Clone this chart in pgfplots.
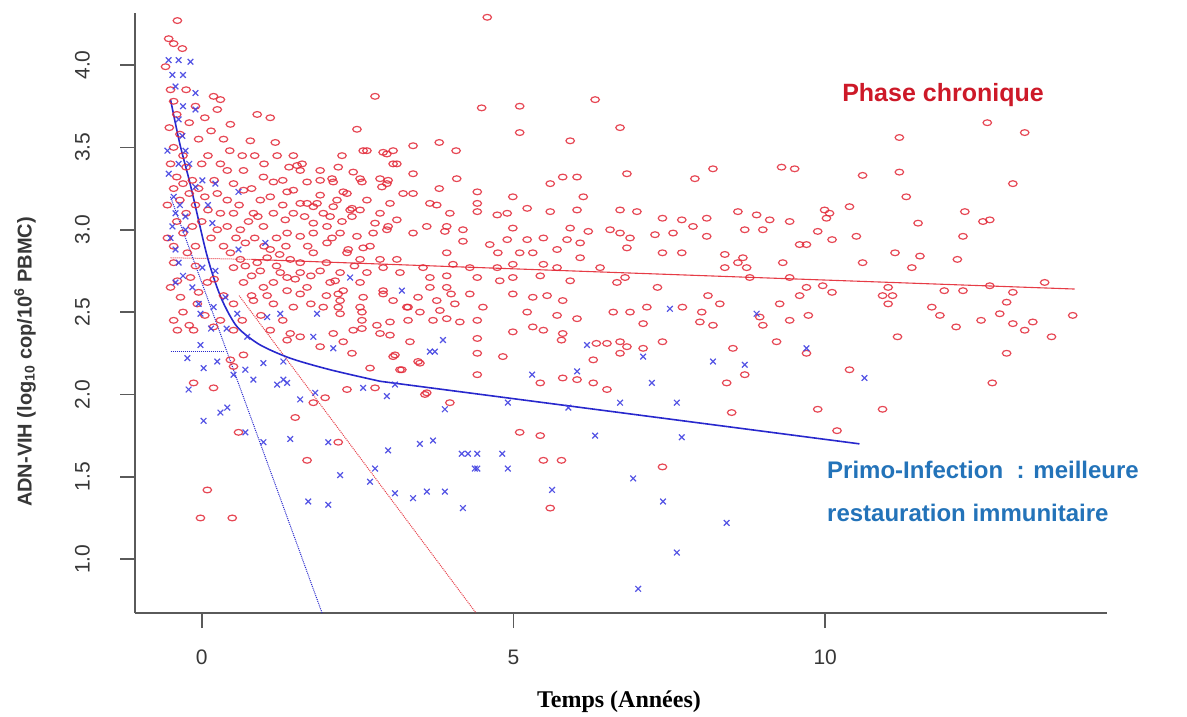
\documentclass[border=0pt]{standalone}
\usepackage{pgfplots}
\pgfplotsset{compat=1.18}
\usepackage{fontspec}
\setmainfont{Liberation Sans}
\newfontfamily\xlabfont{Liberation Serif}

\definecolor{ptred}{RGB}{226,40,55}
\definecolor{ptblue}{RGB}{65,65,225}
\definecolor{lnblue}{RGB}{40,40,205}
\definecolor{lnred}{RGB}{230,60,70}
\definecolor{axgray}{RGB}{90,90,90}
\definecolor{txgray}{RGB}{55,55,55}
\definecolor{phasered}{RGB}{205,25,40}
\definecolor{primoblue}{RGB}{35,115,185}

\begin{document}
\begin{tikzpicture}
\useasboundingbox (0,0) rectangle (1187pt,716pt);
\begin{axis}[
  at={(135pt,103pt)}, anchor=south west,
  width=972pt, height=600pt, scale only axis,
  xmin=-1.07, xmax=14.52, ymin=0.673, ymax=4.316,
  axis lines=left,
  axis line style={-, draw=axgray, line width=1.6pt},
  xtick={0,5,10},
  ytick={1.0,1.5,2.0,2.5,3.0,3.5,4.0},
  tick align=outside, major tick length=15pt,
  tick style={draw=axgray, line width=1.6pt},
  /pgf/number format/assume math mode=true,
  yticklabel style={/pgf/number format/fixed, /pgf/number format/fixed zerofill,
    /pgf/number format/precision=1, xshift=-30pt, rotate=90, anchor=south, inner sep=0pt},
  xticklabel style={inner sep=0pt, yshift=-22pt},
  ticklabel style={font=\fontsize{21}{24}\selectfont, text=txgray},
]

% phase chronique
\addplot[only marks, mark=o, mark size=3.4pt, draw=ptred, draw opacity=0.85,
  mark options={xscale=1.25, yscale=0.85, line width=1.2pt}] coordinates {
(4.58,4.29)(-0.39,4.27)(-0.53,4.16)(-0.45,4.13)(-0.31,4.10)(-0.58,3.99)
(4.49,3.74)(5.10,3.75)(6.31,3.79)(5.10,3.59)(5.91,3.54)(6.71,3.62)(3.39,3.51)(3.81,3.53)(4.08,3.48)
(2.97,3.46)(3.13,3.40)(3.39,3.34)(4.09,3.31)(2.97,3.28)(5.59,3.28)(5.79,3.32)(6.02,3.32)(6.82,3.34)
(7.91,3.31)(8.20,3.37)(9.30,3.38)(9.51,3.37)
(3.23,3.22)(3.39,3.22)(3.81,3.25)(4.42,3.23)(6.12,3.20)(3.02,3.16)(3.66,3.16)(4.42,3.16)(4.99,3.20)
(4.42,3.11)(3.98,3.10)(4.74,3.09)(4.90,3.10)(5.22,3.13)(5.59,3.11)(6.02,3.12)(6.71,3.12)(6.98,3.11)
(7.39,3.07)(7.70,3.06)(8.10,3.07)(8.90,3.09)(9.11,3.06)(9.43,3.05)(8.60,3.11)
(3.61,3.02)(3.93,3.02)(4.19,3.00)(4.99,3.01)(5.91,3.01)(6.20,2.99)(6.55,3.00)(6.71,2.98)(6.87,2.95)
(7.27,2.97)(7.56,2.98)(7.88,3.02)(8.10,2.96)(8.71,3.00)(9.00,3.00)(3.39,2.98)
(4.19,2.93)(4.62,2.91)(4.90,2.94)(5.22,2.94)(5.48,2.95)(5.86,2.94)(6.07,2.92)(6.82,2.89)(7.39,2.86)
(7.70,2.86)(8.39,2.85)(8.68,2.83)(9.32,2.80)(3.93,2.86)(4.75,2.86)(5.10,2.86)(5.31,2.86)(5.70,2.88)(6.07,2.83)
(3.55,2.77)(4.03,2.79)(4.30,2.77)(4.74,2.77)(4.99,2.79)(5.48,2.79)(5.70,2.77)(6.39,2.77)(8.39,2.77)(8.60,2.80)(8.74,2.77)
(3.18,2.74)(3.66,2.71)(3.93,2.72)(4.42,2.71)(4.78,2.69)(4.99,2.71)(5.43,2.72)(5.91,2.69)(6.79,2.71)(8.79,2.71)(9.43,2.71)
(3.66,2.65)(3.93,2.65)(4.30,2.61)(4.99,2.61)(5.31,2.59)(5.54,2.60)(5.79,2.57)(6.66,2.68)(7.31,2.65)(8.12,2.60)(9.27,2.55)
(3.29,2.53)(3.50,2.50)(3.82,2.51)(4.06,2.55)(4.51,2.53)(5.22,2.50)(5.70,2.48)(6.02,2.46)(6.60,2.50)
(6.87,2.50)(7.14,2.53)(7.71,2.53)(8.02,2.50)(8.31,2.55)(8.95,2.47)(9.43,2.45)
(3.02,2.44)(3.93,2.46)(4.14,2.44)(4.42,2.45)(7.08,2.43)(7.99,2.44)(8.20,2.42)(9.00,2.42)
(3.34,2.32)(4.42,2.34)(4.99,2.38)(5.31,2.41)(5.48,2.39)(5.79,2.37)(6.50,2.31)(6.71,2.32)(7.39,2.32)(9.22,2.32)
(5.77,2.33)(6.33,2.31)(6.82,2.29)(7.08,2.28)(8.52,2.28)
(3.07,2.23)(3.50,2.19)(4.42,2.25)(4.83,2.23)(6.28,2.21)(6.71,2.25)(4.42,2.12)(5.79,2.10)(6.02,2.09)
(6.28,2.07)(6.50,2.03)(5.43,2.07)(3.18,2.15)(3.61,2.01)(3.98,1.95)(8.42,2.07)(8.71,2.12)(8.50,1.89)
(5.10,1.77)(5.43,1.75)(5.48,1.60)(5.77,1.60)(7.39,1.56)(5.59,1.31)
(11.16,2.35)(13.63,2.35)(12.91,2.25)(10.39,2.15)(12.68,2.07)(9.88,1.91)(10.92,1.91)(10.19,1.78)(9.70,2.25)
(10.60,3.33)(11.19,3.35)(13.01,3.28)(11.30,3.20)(9.99,3.12)(10.07,3.10)(10.39,3.14)(10.02,3.07)(11.49,3.04)
(12.24,3.11)(12.53,3.05)(12.64,3.06)(9.88,2.99)(12.21,2.96)(10.50,2.96)(10.11,2.94)(9.59,2.91)(9.70,2.91)
(11.12,2.86)(11.52,2.84)(12.12,2.82)(11.39,2.77)(10.60,2.80)(9.70,2.65)(9.59,2.60)(9.96,2.66)(10.11,2.62)
(11.01,2.65)(10.92,2.60)(11.08,2.60)(11.01,2.55)(11.91,2.63)(12.21,2.63)(12.64,2.66)(13.52,2.68)(13.01,2.62)
(12.91,2.56)(11.71,2.53)(11.84,2.48)(12.80,2.49)(12.50,2.45)(13.01,2.43)(13.33,2.44)(13.20,2.39)(13.97,2.48)
(12.10,2.41)(9.73,2.48)(12.60,3.65)(13.20,3.59)(11.19,3.56)
(0.19,3.81)(0.30,3.79)(0.25,3.73)(0.46,3.64)(0.89,3.70)(1.10,3.68)(0.78,3.54)(1.18,3.53)(2.78,3.81)
(2.49,3.61)(2.65,3.48)(2.91,3.47)(3.07,3.48)
(0.30,3.40)(0.41,3.36)(0.67,3.36)(0.99,3.32)(1.21,3.45)(1.47,3.45)(1.15,3.29)(1.53,3.39)(1.58,3.36)
(1.90,3.30)(2.11,3.29)(2.25,3.45)(2.43,3.35)(2.54,3.31)(2.89,3.26)(2.99,3.30)
(0.51,3.28)(0.67,3.24)(0.25,3.22)(0.41,3.18)(0.94,3.18)(0.51,3.10)(0.83,3.10)(1.15,3.10)(1.47,3.24)
(1.69,3.16)(1.90,3.21)(2.17,3.18)(2.33,3.22)(2.65,3.18)
(1.47,3.10)(1.79,3.14)(2.06,3.08)(2.38,3.12)(2.86,3.10)(3.13,3.06)
(0.41,3.02)(0.62,3.00)(0.99,3.02)(1.37,2.98)(1.58,2.96)(1.79,2.98)(2.01,3.02)(2.22,2.98)(2.49,2.96)(2.75,2.98)(2.97,3.00)
(-0.45,2.90)(-0.23,2.86)(0.46,2.86)(0.62,2.82)(0.89,2.80)(1.05,2.83)(1.42,2.82)(1.58,2.80)(1.79,2.86)
(2.01,2.92)(2.33,2.86)(2.54,2.82)(2.86,2.82)(3.13,2.82)
(0.51,2.77)(0.94,2.75)(1.26,2.74)(1.58,2.74)(1.90,2.75)(2.22,2.74)(2.65,2.74)
(-0.39,2.69)(-0.18,2.71)(0.09,2.68)(0.67,2.68)(0.99,2.65)(1.37,2.63)(1.69,2.65)(2.06,2.68)(2.27,2.63)(2.54,2.68)(2.91,2.63)
(-0.34,2.59)(-0.07,2.55)(0.51,2.55)(0.83,2.57)(1.15,2.55)(1.47,2.53)(1.95,2.53)(2.22,2.57)(2.54,2.53)(3.07,2.57)
(-0.39,2.39)(-0.13,2.39)(0.19,2.41)(0.51,2.39)(1.10,2.39)(1.42,2.37)(1.58,2.35)(2.11,2.37)(2.43,2.39)(2.86,2.37)
(2.59,3.48)(1.61,3.40)(1.90,3.36)(2.19,3.38)(2.09,3.31)(2.57,3.29)(2.86,3.31)(3.07,3.40)(1.69,3.29)
(2.27,3.23)(1.37,3.23)(1.58,3.16)(1.85,3.16)(2.11,3.14)(2.41,3.13)(2.54,3.12)(3.77,3.15)(1.34,3.06)
(1.79,3.04)(2.41,3.08)(2.78,3.04)(2.99,3.02)(3.90,2.99)(2.09,2.95)(2.35,2.88)(2.59,2.89)(2.91,2.77)
(1.37,2.71)(2.14,2.69)(1.58,2.61)(2.19,2.61)(2.59,2.59)(2.91,2.61)(3.47,2.59)(3.77,2.57)(4.00,2.61)
(2.22,2.49)(2.57,2.45)(2.81,2.42)(3.31,2.45)(3.71,2.45)(2.57,2.40)(3.02,2.36)(2.27,2.32)
(2.19,2.53)(2.57,2.50)(3.31,2.53)(1.37,2.33)(1.90,2.29)(2.41,2.25)(3.10,2.24)(3.47,2.20)(3.21,2.15)
(2.70,2.16)(2.33,2.03)(3.58,2.00)(1.79,1.95)(1.50,1.86)(2.19,1.71)(1.69,1.60)
(0.46,2.21)(0.51,2.17)(0.67,2.24)(-0.13,2.07)(0.19,2.04)(1.98,1.98)(2.78,2.04)(0.59,1.77)(0.09,1.42)
(-0.02,1.25)(0.49,1.25)
(-0.50,3.85)(-0.45,3.78)(-0.40,3.70)(-0.52,3.62)(-0.35,3.58)(-0.45,3.50)(-0.30,3.45)(-0.50,3.40)
(-0.25,3.38)(-0.40,3.32)(-0.30,3.28)(-0.15,3.30)(-0.45,3.25)(-0.20,3.22)(-0.05,3.25)(-0.35,3.18)
(0.05,3.20)(-0.10,3.15)(-0.25,3.10)(0.10,3.12)(-0.40,3.05)(-0.15,3.02)(0.00,3.05)(-0.30,2.98)
(0.15,2.95)(-0.45,2.80)(-0.10,2.78)(-0.50,2.65)(-0.05,2.62)(-0.30,2.50)(0.05,2.48)(-0.45,2.45)
(-0.20,2.42)(0.25,3.00)(0.35,2.90)(0.20,3.30)(0.10,3.45)(-0.05,3.55)(0.00,3.40)(0.30,3.10)(0.70,2.92)
(0.80,2.60)(1.00,2.90)(1.20,2.95)(1.25,2.85)(0.75,3.05)(0.60,3.15)(1.30,3.15)(1.00,3.40)(0.65,3.45)
(0.35,3.55)(-0.20,3.65)(-0.10,3.75)(0.20,2.70)(0.35,2.60)(0.30,2.45)(0.65,2.45)(0.95,2.48)(1.30,2.45)
(-0.55,3.15)(-0.55,2.95)(-0.10,2.90)
(0.85,2.95)(1.10,2.88)(1.35,2.90)(0.70,2.78)(0.80,2.72)(1.15,2.68)(1.50,2.70)(1.75,2.72)(2.00,2.80)
(1.20,2.78)(0.55,2.95)(0.90,3.08)(1.10,3.20)(1.30,3.30)(0.80,3.25)(1.65,3.08)(1.95,3.10)(2.25,3.05)
(1.70,2.90)(2.45,2.78)(2.70,2.90)(1.05,2.60)(1.75,2.55)(2.00,2.60)(0.45,3.48)(0.85,3.45)(1.40,3.38)
(0.15,3.60)(0.05,3.68)(-0.25,3.85)
};

% primo-infection
\addplot[only marks, mark=x, mark size=4pt, draw=ptblue, draw opacity=0.9,
  mark options={line width=1.2pt}] coordinates {
(-0.53,4.03)(-0.37,4.03)(-0.18,4.02)(-0.47,3.94)(-0.30,3.94)(-0.10,3.83)(-0.42,3.87)(-0.30,3.75)
(-0.10,3.73)(-0.37,3.67)(-0.31,3.57)(-0.55,3.48)(-0.26,3.48)(-0.37,3.40)(-0.53,3.34)(0.01,3.30)
(0.22,3.28)(-0.10,3.26)(0.59,3.23)(-0.42,3.10)(-0.26,3.08)(-0.47,3.02)(-0.26,3.00)(0.17,3.04)
(1.02,2.92)(0.59,2.88)(-0.42,2.88)(-0.37,2.80)(0.01,2.77)(0.22,2.75)(-0.42,2.68)(-0.15,2.65)
(-0.05,2.55)(0.38,2.59)(2.38,2.71)(1.85,2.49)(1.26,2.49)(1.05,2.47)(0.73,2.35)(0.57,2.49)
(0.19,2.53)(-0.02,2.49)(1.79,2.35)
(-0.02,2.30)(-0.23,2.22)(0.03,2.16)(0.51,2.12)(0.99,2.19)(0.83,2.09)(1.21,2.06)(1.31,2.09)(1.31,2.20)
(-0.21,2.03)(1.58,1.97)(1.82,2.01)(2.59,2.04)(2.97,1.99)(0.41,1.92)(0.30,1.89)(0.03,1.84)(0.70,1.77)
(0.99,1.71)(1.42,1.73)(2.03,1.71)(2.99,1.66)(2.22,1.51)(2.78,1.55)(2.70,1.47)(3.10,1.40)(1.71,1.35)(2.03,1.33)
(2.11,2.28)(3.87,2.33)(3.66,2.26)(3.74,2.26)(1.37,2.07)(3.10,2.06)(3.90,1.91)(3.50,1.70)(3.71,1.72)
(4.17,1.64)(4.27,1.64)(4.38,1.55)(3.39,1.37)(3.61,1.41)(3.90,1.41)(4.19,1.31)
(5.30,2.12)(6.02,2.14)(6.18,2.30)(7.08,2.23)(7.22,2.07)(8.20,2.20)(8.71,2.18)(4.91,1.95)(5.88,1.92)
(6.71,1.95)(7.62,1.95)(6.31,1.75)(7.70,1.74)(4.42,1.64)(4.82,1.64)(4.42,1.55)(4.91,1.55)(5.62,1.42)
(6.92,1.49)(7.40,1.35)(8.42,1.22)(7.62,1.04)(7.00,0.82)
(3.21,2.63)(7.51,2.52)(8.90,2.49)(9.70,2.28)(10.63,2.10)
(-0.45,3.20)(-0.35,3.15)(-0.20,3.40)(0.10,3.15)(-0.50,2.95)(-0.30,2.72)(0.15,2.40)(0.40,2.40)(0.25,2.20)(0.70,2.15)
};

% ajustements
\addplot[lnred, line width=1.1pt] coordinates {(0.8,2.82)(14.0,2.64)};
\addplot[lnred, line width=1pt, densely dotted] coordinates {(-0.5,2.83)(0.8,2.82)};
\addplot[lnred, line width=1pt, densely dotted] coordinates {(0.6,2.60)(4.4,0.673)};
\addplot[lnblue, line width=1.6pt, smooth] coordinates {
(-0.50,3.79)(-0.35,3.52)(-0.18,3.27)(0.06,2.88)(0.20,2.70)(0.33,2.57)(0.48,2.46)(0.62,2.39)
(0.94,2.30)(1.42,2.22)(2.06,2.15)(2.86,2.08)};
\addplot[lnblue, line width=1.6pt] coordinates {(2.86,2.08)(10.55,1.70)};
\addplot[lnblue, line width=1pt, densely dotted] coordinates {(-0.5,3.20)(1.93,0.673)};
\addplot[lnblue, line width=1pt, densely dotted] coordinates {(-0.5,2.26)(0.35,2.26)};
\end{axis}

\node[rotate=90, text=txgray, font=\bfseries\fontsize{20}{24}\selectfont]
  at (25pt,354pt) {ADN-VIH (log\textsubscript{10} cop/10\textsuperscript{6} PBMC)};
\node[text=black, font=\xlabfont\bfseries\fontsize{24}{28}\selectfont]
  at (619pt,14pt) {Temps (Années)};
\node[text=phasered, font=\bfseries\fontsize{25}{28}\selectfont]
  at (943pt,621pt) {Phase chronique};
\node[text=primoblue, anchor=west, inner sep=0pt, font=\bfseries\fontsize{24}{28}\selectfont]
  at (827pt,246pt) {Primo-Infection~ : meilleure};
\node[text=primoblue, anchor=west, inner sep=0pt, font=\bfseries\fontsize{24}{28}\selectfont]
  at (827pt,203pt) {restauration immunitaire};
\end{tikzpicture}
\end{document}
